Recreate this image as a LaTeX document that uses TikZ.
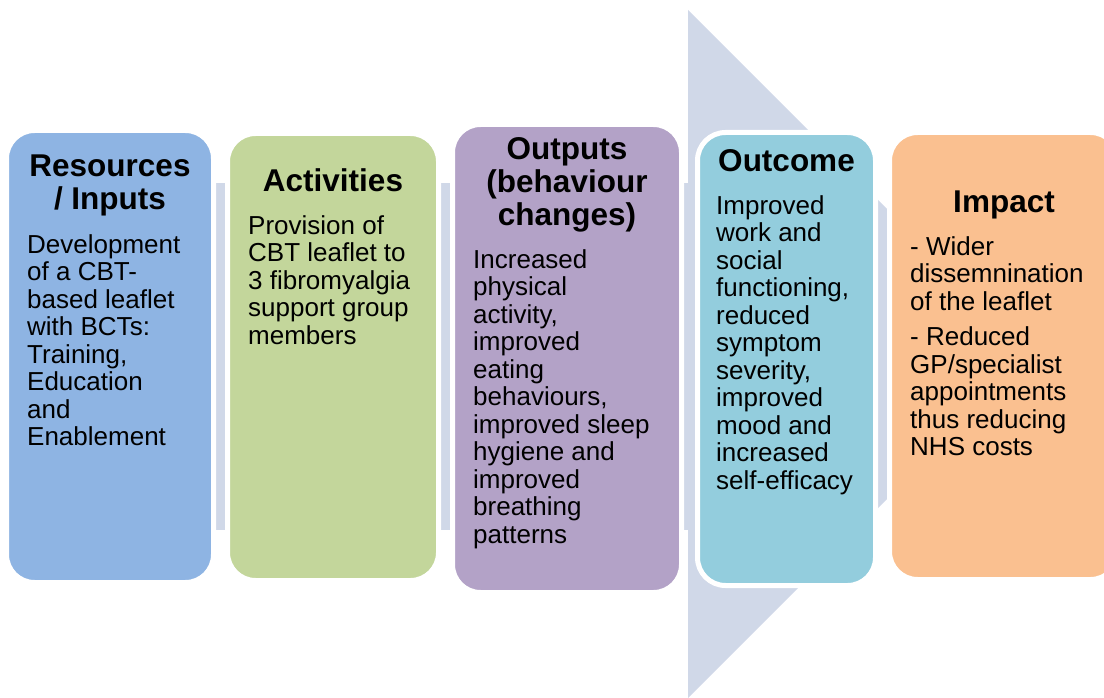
\documentclass[tikz,border=0pt]{standalone}
\usepackage{fontspec}
\setmainfont{Liberation Sans}

\definecolor{resblue}{RGB}{142,180,227}
\definecolor{actgreen}{RGB}{195,214,155}
\definecolor{outpurple}{RGB}{179,162,199}
\definecolor{outcblue}{RGB}{147,205,221}
\definecolor{imporange}{RGB}{250,192,144}
\definecolor{chevgray}{RGB}{208,216,232}

\begin{document}
\begin{tikzpicture}[x=1pt,y=-1pt,
        box/.style={draw=white,line width=5pt,rounded corners=28pt},
        head/.style={anchor=north,inner sep=0pt,align=center,font=\bfseries\fontsize{31.5}{33}\selectfont},
        body/.style={anchor=north west,inner sep=0pt,align=left,font=\fontsize{26}{27.5}\selectfont},
        bar/.style={fill=chevgray}]
        \useasboundingbox (0,0) rectangle (1104,698);

        % background arrow and separators
        \fill [chevgray] (688,10) -- (1032,354) -- (688,698) -- cycle;
        \fill [bar] (216,183) rectangle (225,530);
        \fill [bar] (441,183) rectangle (450,530);
        \fill [bar] (683,183) rectangle (692,530);

        % boxes
        \node [box,fill=resblue,minimum width=207pt,minimum height=452pt] (res) at (110,356.5) {};
        \node [box,fill=actgreen,minimum width=211pt,minimum height=447pt] (act) at (333,357) {};
        \node [box,fill=outpurple,minimum width=229pt,minimum height=468pt] (outp) at (567,358.5) {};
        \node [box,fill=outcblue,minimum width=178pt,minimum height=453pt] (outc) at (786.5,359) {};
        \node [box,fill=imporange,minimum width=229pt,minimum height=447pt] (imp) at (1004,356) {};

        % headings
        \node [head] (restitle) at (110,155) {Resources\\/ Inputs};
        \node [head] (acttitle) at (333,168) {Activities};
        \node [head] (outptitle) at (567,137) {Outputs\\(behaviour\\changes)};
        \node [head] (outctitle) at (786.5,149) {Outcome};
        \node [head] (imptitle) at (1004,191) {Impact};

        % texts
        \node [body] (restext) at (27,234) {Development\\of a CBT-\\based leaflet\\with BCTs:\\Training,\\Education\\and\\Enablement};
        \node [body] (acttext) at (248,215) {Provision of\\CBT leaflet to\\3 fibromyalgia\\support group\\members};
        \node [body] (outptext) at (473,249) {Increased\\physical\\activity,\\improved\\eating\\behaviours,\\improved sleep\\hygiene and\\improved\\breathing\\patterns};
        \node [body] (outctext) at (716,195) {Improved\\work and\\social\\functioning,\\reduced\\symptom\\severity,\\improved\\mood and\\increased\\self-efficacy};
        \node [body] (imptext) at (910,236) {- Wider\\dissemnination\\of the leaflet\\[8pt]- Reduced\\GP/specialist\\appointments\\thus reducing\\NHS costs};
    \end{tikzpicture}
\end{document}
